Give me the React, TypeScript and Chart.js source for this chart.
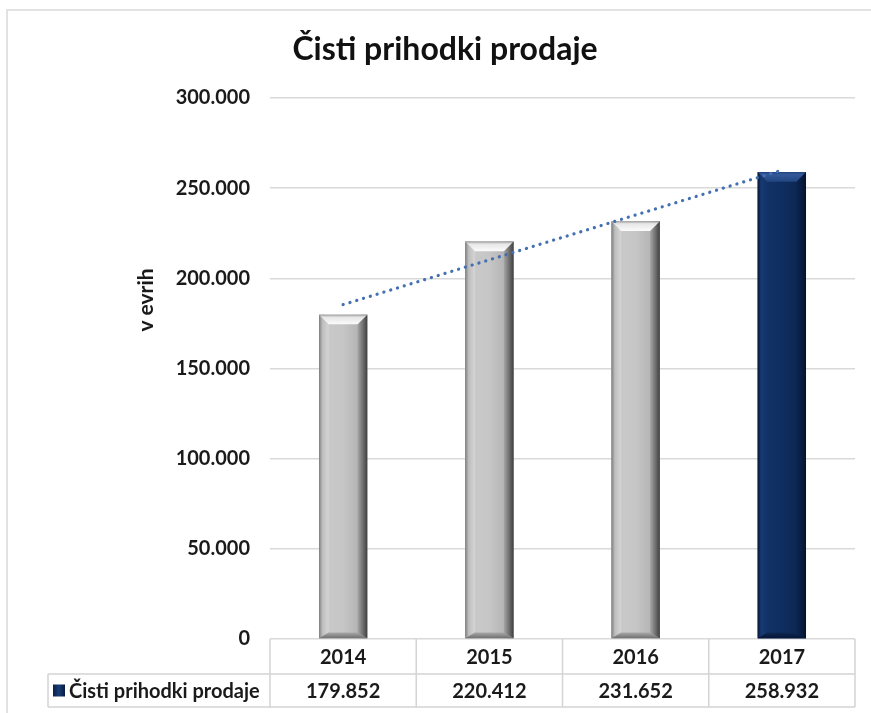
import React, { useEffect, useRef } from "react";
import { Chart, registerables } from "chart.js";

Chart.register(...registerables);

const title = "Čisti prihodki prodaje";
const axisTitle = "v evrih";
const seriesName = "Čisti prihodki prodaje";
const years = ["2014", "2015", "2016", "2017"];
const revenue = [179852, 220412, 231652, 258932];
const trend = [185440, 210290, 235140, 259980];
const yTicks = [0, 50000, 100000, 150000, 200000, 250000, 300000];

const FONT = "Lato, 'Liberation Sans', sans-serif";

const fmt = (v: number) =>
  v === 0 ? "0" : Math.round(v).toString().replace(/\B(?=(\d{3})+(?!\d))/g, ".");

function bevelBar(ctx: CanvasRenderingContext2D, el: any, navy: boolean) {
  const w = el.width;
  const left = el.x - w / 2;
  const right = el.x + w / 2;
  const top = el.y;
  const base = el.base;
  const bev = Math.min(10, w * 0.2);
  const bevB = bev * 0.6;
  ctx.save();
  const g = ctx.createLinearGradient(left, 0, right, 0);
  if (navy) {
    g.addColorStop(0, "#0a2048");
    g.addColorStop(0.2, "#123266");
    g.addColorStop(0.5, "#0f2d5f");
    g.addColorStop(0.8, "#0c2855");
    g.addColorStop(1, "#071a3c");
  } else {
    g.addColorStop(0, "#9c9c9c");
    g.addColorStop(0.2, "#c9c9c9");
    g.addColorStop(0.5, "#c6c6c6");
    g.addColorStop(0.8, "#b5b5b5");
    g.addColorStop(1, "#6e6e6e");
  }
  ctx.fillStyle = g;
  ctx.fillRect(left, top, w, base - top);

  const gl = ctx.createLinearGradient(left, 0, left + bev, 0);
  gl.addColorStop(0, navy ? "#061738" : "#7d7d7d");
  gl.addColorStop(0.35, navy ? "#163a72" : "#bdbdbd");
  gl.addColorStop(1, navy ? "#12336a" : "#d6d6d6");
  ctx.fillStyle = gl;
  ctx.beginPath();
  ctx.moveTo(left, top);
  ctx.lineTo(left + bev, top + bev);
  ctx.lineTo(left + bev, base - bevB);
  ctx.lineTo(left, base);
  ctx.closePath();
  ctx.fill();

  const gr = ctx.createLinearGradient(right - bev, 0, right, 0);
  gr.addColorStop(0, navy ? "#0b2450" : "#a6a6a6");
  gr.addColorStop(0.6, navy ? "#081c40" : "#6a6a6a");
  gr.addColorStop(1, navy ? "#04112a" : "#404040");
  ctx.fillStyle = gr;
  ctx.beginPath();
  ctx.moveTo(right, top);
  ctx.lineTo(right - bev, top + bev);
  ctx.lineTo(right - bev, base - bevB);
  ctx.lineTo(right, base);
  ctx.closePath();
  ctx.fill();

  const gb = ctx.createLinearGradient(0, base - bevB, 0, base);
  gb.addColorStop(0, navy ? "#0c2855" : "#a8a8a8");
  gb.addColorStop(1, navy ? "#061534" : "#707070");
  ctx.fillStyle = gb;
  ctx.beginPath();
  ctx.moveTo(left, base);
  ctx.lineTo(left + bev, base - bevB);
  ctx.lineTo(right - bev, base - bevB);
  ctx.lineTo(right, base);
  ctx.closePath();
  ctx.fill();

  const gt = ctx.createLinearGradient(0, top, 0, top + bev);
  gt.addColorStop(0, navy ? "#22447c" : "#9a9a9a");
  gt.addColorStop(0.25, navy ? "#33589a" : "#e6e6e6");
  gt.addColorStop(1, navy ? "#224680" : "#fbfbfb");
  ctx.fillStyle = gt;
  ctx.beginPath();
  ctx.moveTo(left, top);
  ctx.lineTo(right, top);
  ctx.lineTo(right - bev, top + bev);
  ctx.lineTo(left + bev, top + bev);
  ctx.closePath();
  ctx.fill();
  ctx.restore();
}

const bevelPlugin = {
  id: "bevelBars",
  afterDatasetDraw(chart: any, args: any) {
    const meta = args.meta;
    if (meta.type !== "bar") return;
    const ctx = chart.ctx;
    meta.data.forEach((el: any, i: number) => {
      bevelBar(ctx, el, i === meta.data.length - 1);
    });
  },
};

const textPlugin = {
  id: "texts",
  afterDraw(chart: any) {
    const ctx: CanvasRenderingContext2D = chart.ctx;
    const area = chart.chartArea;
    ctx.save();
    ctx.strokeStyle = "#d9d9d9";
    ctx.lineWidth = 1.5;
    ctx.beginPath();
    ctx.moveTo(7, 713);
    ctx.lineTo(7, 10);
    ctx.lineTo(871, 10);
    ctx.stroke();

    ctx.fillStyle = "#111";
    ctx.font = `bold 32px ${FONT}`;
    ctx.textAlign = "center";
    ctx.textBaseline = "middle";
    ctx.fillText(title, 445, 50);

    ctx.save();
    ctx.translate(146, 300);
    ctx.rotate(-Math.PI / 2);
    ctx.font = `bold 21px ${FONT}`;
    ctx.fillStyle = "#1a1a1a";
    ctx.fillText(axisTitle, 0, 0);
    ctx.restore();

    const x = chart.scales.x;
    const n = years.length;
    const step = (area.right - area.left) / n;
    const y0 = area.bottom;
    const y1 = y0 + 35;
    const y2 = y1 + 33;
    const legendLeft = 48;
    ctx.strokeStyle = "#d4d4d4";
    ctx.lineWidth = 1.5;
    ctx.beginPath();
    for (let i = 0; i <= n; i++) {
      const xx = area.left + step * i;
      ctx.moveTo(xx, y0);
      ctx.lineTo(xx, y2);
    }
    ctx.moveTo(legendLeft, y1);
    ctx.lineTo(area.right, y1);
    ctx.moveTo(legendLeft, y2);
    ctx.lineTo(area.right, y2);
    ctx.moveTo(legendLeft, y1);
    ctx.lineTo(legendLeft, y2);
    ctx.stroke();

    ctx.fillStyle = "#1a1a1a";
    ctx.font = `bold 20px ${FONT}`;
    ctx.textAlign = "center";
    ctx.textBaseline = "middle";
    years.forEach((yr, i) => {
      const cx = x.getPixelForValue(i);
      ctx.fillText(yr, cx, (y0 + y1) / 2 + 1);
      ctx.fillText(fmt(revenue[i]), cx, (y1 + y2) / 2 + 1);
    });

    const kx = 53, ky = (y1 + y2) / 2 - 6;
    const kg = ctx.createLinearGradient(kx, 0, kx + 12, 0);
    kg.addColorStop(0, "#0a2048");
    kg.addColorStop(0.5, "#1a3d78");
    kg.addColorStop(1, "#071a3c");
    ctx.fillStyle = kg;
    ctx.fillRect(kx, ky, 12, 12);
    ctx.fillStyle = "#1a1a1a";
    ctx.textAlign = "left";
    ctx.fillText(seriesName, 69, (y1 + y2) / 2 + 1);
    ctx.restore();
  },
};

export default function App() {
  const ref = useRef<HTMLCanvasElement | null>(null);

  useEffect(() => {
    document.body.style.margin = "0";
    const canvas = ref.current;
    if (!canvas) return;
    const chart = new Chart(canvas, {
      type: "bar",
      data: {
        labels: years,
        datasets: [
          {
            type: "line",
            label: "trend",
            data: trend,
            borderColor: "#4470b2",
            borderWidth: 3.2,
            borderDash: [0.1, 7],
            borderCapStyle: "round",
            pointRadius: 0,
            fill: false,
            tension: 0,
          } as any,
          {
            type: "bar",
            label: seriesName,
            data: revenue,
            backgroundColor: ["#c0c0c0", "#c0c0c0", "#c0c0c0", "#0f2d5f"],
            borderWidth: 0,
            categoryPercentage: 1,
            barPercentage: 0.33,
          },
        ],
      },
      options: {
        responsive: false,
        animation: false,
        layout: { padding: { left: 0, right: 16, top: 98, bottom: 66 } },
        plugins: {
          legend: { display: false },
          tooltip: { enabled: false },
          title: { display: false },
        },
        scales: {
          x: {
            grid: { display: false },
            border: { display: false },
            ticks: { display: false },
          },
          y: {
            min: 0,
            max: 300000,
            afterFit: (s: any) => {
              s.width = 270;
            },
            afterBuildTicks: (s: any) => {
              s.ticks = yTicks.map((v) => ({ value: v }));
            },
            grid: { color: "#d9d9d9", lineWidth: 1.5, drawTicks: false },
            border: { display: false },
            ticks: {
              padding: 20,
              color: "#1a1a1a",
              font: { family: FONT, size: 20, weight: "bold" },
              callback: (v: any) => fmt(Number(v)),
            },
          },
        },
      },
      plugins: [bevelPlugin, textPlugin],
    });
    return () => chart.destroy();
  }, []);

  return <canvas ref={ref} width={871} height={713} style={{ display: "block" }} />;
}
